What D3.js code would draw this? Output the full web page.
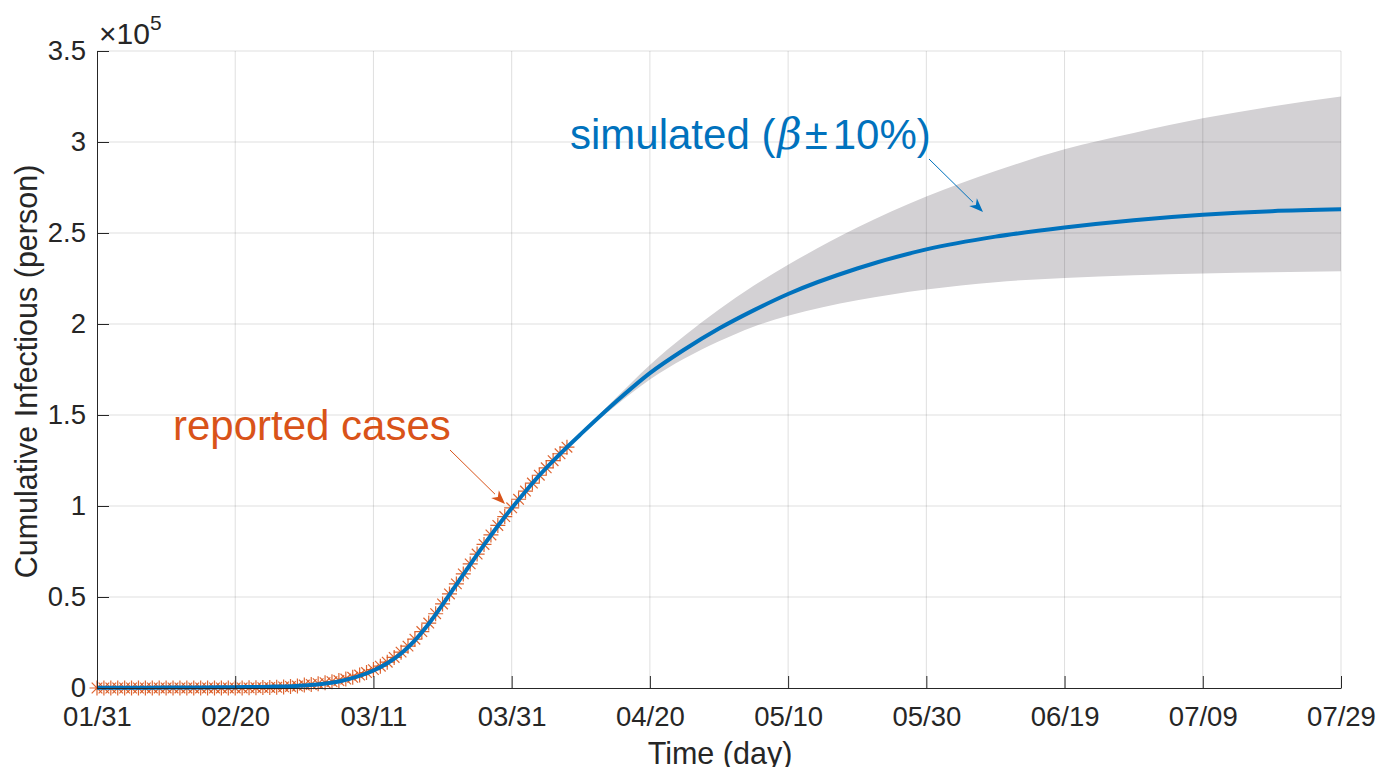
<!DOCTYPE html>
<html>
<head>
<meta charset="utf-8">
<script src="https://cdn.jsdelivr.net/npm/d3@7/dist/d3.min.js"></script>
<style>
  html, body { margin: 0; padding: 0; background: #fff; }
  svg { display: block; }
  text { font-family: "Liberation Sans", Arial, Helvetica, sans-serif; }
</style>
</head>
<body>
<svg id="chart" width="1379" height="767"></svg>
<script>
// ---------------- data ----------------
const xTickDays   = [0, 20, 40, 60, 80, 100, 120, 140, 160, 180];
const xTickLabels = ["01/31", "02/20", "03/11", "03/31", "04/20", "05/10", "05/30", "06/19", "07/09", "07/29"];
const yTickValues = [0, 50000, 100000, 150000, 200000, 250000, 300000, 350000];
const yTickLabels = ["0", "0.5", "1", "1.5", "2", "2.5", "3", "3.5"];

// reported cumulative cases, day 0 (01/31) .. day 68 (04/08)
const reportedCases = [
  0, 0, 0, 0, 0, 0, 0, 2, 3, 3,
  3, 3, 3, 3, 3, 3, 3, 3, 3, 3,
  3, 19, 75, 143, 218, 306, 380, 618, 844, 1072,
  1609, 1934, 2377, 2935, 3500, 4100, 4900, 5900, 7100, 8500,
  10100, 12000, 14200, 16800, 19700, 23000, 26800, 31000, 35700, 40800,
  46200, 51700, 57200, 62700, 68200, 73600, 78900, 84100, 89300, 94200,
  99000, 103700, 108200, 112600, 116900, 121000, 124900, 128700, 132300
];

// simulated curve (nominal beta) and beta +/- 10% envelope
const simDays  = [0, 5, 10, 15, 20, 25, 30, 35, 40, 42, 44, 46, 48, 50, 52, 54, 56, 58, 60, 62, 64, 66, 68, 70, 75, 80, 85, 90, 95, 100, 110, 120, 130, 140, 150, 160, 170, 180];
const simMid   = [100, 150, 220, 330, 480, 700, 1400, 3600, 9600, 13600, 19000, 26200, 35300, 45800, 56800, 67800, 78600, 89000, 98800, 108000, 116800, 124800, 132300, 139500, 157000, 173000, 186000, 197500, 207500, 216500, 230500, 241000, 248000, 253000, 257000, 260000, 262000, 263000];
const simUpper = [100, 150, 220, 330, 480, 700, 1400, 3600, 9600, 13600, 19000, 26200, 35300, 45800, 56800, 67800, 78600, 89000, 98800, 108000, 116800, 124900, 132500, 140000, 159000, 177500, 193500, 208000, 221000, 232500, 253000, 270000, 284000, 296000, 305000, 313000, 319500, 325000];
const simLower = [100, 150, 220, 330, 480, 700, 1400, 3600, 9600, 13600, 19000, 26200, 35300, 45800, 56800, 67800, 78600, 89000, 98800, 108000, 116800, 124700, 132100, 139000, 155000, 169500, 181000, 190500, 198500, 204500, 213000, 219000, 223000, 225300, 226800, 227800, 228500, 229000];

// ---------------- layout ----------------
const svg = d3.select("#chart");
const L = 97, R = 1341, T = 51, B = 688;
const x = d3.scaleLinear().domain([0, 180]).range([L, R]);
const y = d3.scaleLinear().domain([0, 350000]).range([B, T]);

const blue = "#0072BD", orange = "#D95319", axisCol = "#262626";

// band
const area = d3.area()
  .x((d, i) => x(simDays[i]))
  .y0((d, i) => y(simLower[i]))
  .y1((d, i) => y(simUpper[i]))
  .curve(d3.curveMonotoneX);
svg.append("path").datum(simDays).attr("d", area).attr("fill", "#d3d1d4").attr("stroke", "none");

// grid
const grid = svg.append("g").attr("stroke", "rgba(38,38,38,0.15)").attr("stroke-width", 1);
xTickDays.forEach(d => { if (d > 0) grid.append("line").attr("x1", x(d)).attr("x2", x(d)).attr("y1", T).attr("y2", B); });
yTickValues.forEach(v => { if (v > 0) grid.append("line").attr("x1", L).attr("x2", R).attr("y1", y(v)).attr("y2", y(v)); });

// reported markers (asterisk)
const s = 7.5, dgl = 5.3;
const starPath = `M${-s},0H${s}M0,${-s}V${s}M${-dgl},${-dgl}L${dgl},${dgl}M${-dgl},${dgl}L${dgl},${-dgl}`;
svg.append("g").selectAll("path").data(reportedCases).join("path")
  .attr("transform", (d, i) => `translate(${x(i)},${y(d)})`)
  .attr("d", starPath)
  .attr("fill", "none").attr("stroke", orange).attr("stroke-width", 1.2).attr("stroke-opacity", 0.9);

// simulated line
const line = d3.line().x((d, i) => x(simDays[i])).y((d, i) => y(simMid[i])).curve(d3.curveMonotoneX);
svg.append("path").datum(simDays).attr("d", line).attr("fill", "none").attr("stroke", blue).attr("stroke-width", 4);

// axes
const xAxis = d3.axisBottom(x).tickValues(xTickDays).tickFormat((d, i) => xTickLabels[i])
  .tickSizeInner(-12).tickSizeOuter(0).tickPadding(18);
const gx = svg.append("g").attr("transform", `translate(0,${B})`).call(xAxis);
const yAxis = d3.axisLeft(y).tickValues(yTickValues).tickFormat((d, i) => yTickLabels[i])
  .tickSizeInner(-12).tickSizeOuter(0).tickPadding(11);
const gy = svg.append("g").attr("transform", `translate(${L},0)`).call(yAxis);
[gx, gy].forEach(g => {
  g.selectAll("path.domain").attr("stroke", axisCol).attr("stroke-width", 1);
  g.selectAll(".tick line").attr("stroke", axisCol).attr("stroke-width", 1);
  g.selectAll(".tick text").attr("fill", axisCol).style("font-size", "27.5px")
    .style("font-family", "'Liberation Sans', Arial, Helvetica, sans-serif");
});

// exponent label
const ex = svg.append("text").attr("x", 99).attr("y", 44).attr("fill", axisCol).style("font-size", "30px");
ex.append("tspan").text("\u00D710");
ex.append("tspan").attr("dy", -14).style("font-size", "21px").text("5");

// axis labels
svg.append("text").attr("transform", `translate(37,${(T + B) / 2 + 2}) rotate(-90)`)
  .attr("text-anchor", "middle").attr("fill", axisCol).style("font-size", "30.5px")
  .text("Cumulative Infectious (person)");
svg.append("text").attr("x", 720).attr("y", 764).attr("text-anchor", "middle")
  .attr("fill", axisCol).style("font-size", "30.5px").text("Time (day)");

// annotations
function arrow(x1, y1, x2, y2, col) {
  const ang = Math.atan2(y2 - y1, x2 - x1), hl = 14, hw = 5.5;
  const bx = x2 - hl * Math.cos(ang), by = y2 - hl * Math.sin(ang);
  svg.append("line").attr("x1", x1).attr("y1", y1).attr("x2", bx).attr("y2", by)
    .attr("stroke", col).attr("stroke-width", 1);
  const px = -Math.sin(ang), py = Math.cos(ang);
  const back = 4;
  const ix = x2 - (hl - back) * Math.cos(ang), iy = y2 - (hl - back) * Math.sin(ang);
  svg.append("path")
    .attr("d", `M${x2},${y2}L${bx + hw * px},${by + hw * py}L${ix},${iy}L${bx - hw * px},${by - hw * py}Z`)
    .attr("fill", col);
}

svg.append("text").attr("x", 173).attr("y", 440).attr("fill", orange).style("font-size", "42px").text("reported cases");
arrow(450, 450, 505, 504, orange);

const sim = svg.append("text").attr("x", 570).attr("y", 149).attr("fill", blue).style("font-size", "42px");
sim.append("tspan").text("simulated (");
sim.append("tspan").attr("dx", 2).style("font-family", "'DejaVu Serif', 'Liberation Serif', serif")
  .style("font-style", "italic").text("\u03B2");
sim.append("tspan").attr("dx", 3).text("\u00B1");
sim.append("tspan").attr("dx", 5).text("10%)");
arrow(929, 159, 983, 212, blue);
</script>
</body>
</html>
